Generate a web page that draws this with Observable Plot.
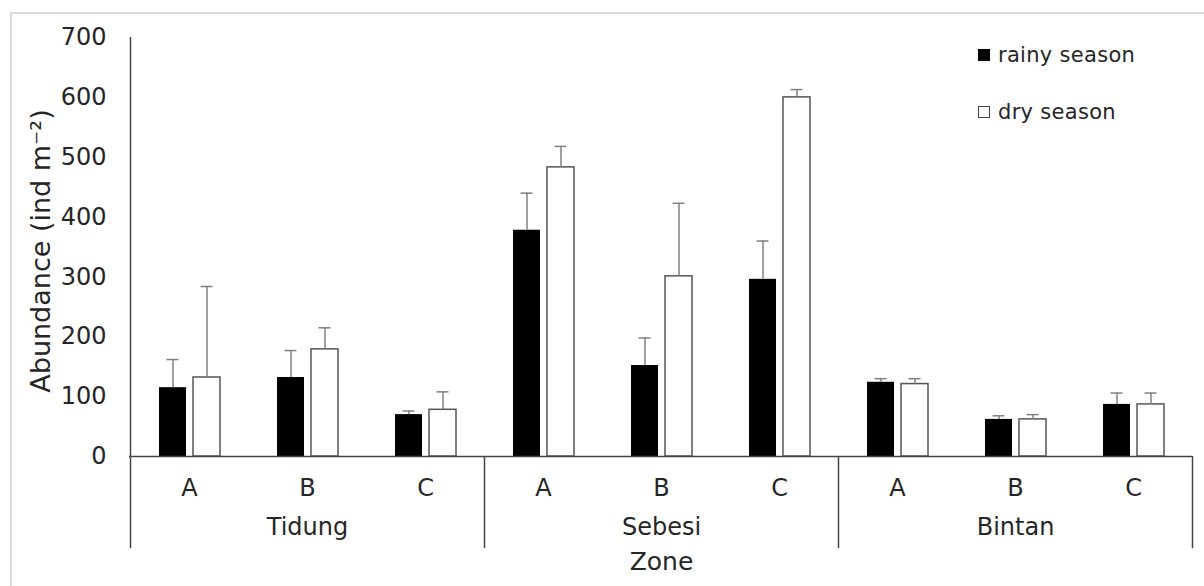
<!DOCTYPE html>
<html>
<head>
<meta charset="utf-8">
<script src="https://cdn.jsdelivr.net/npm/d3@7"></script>
<script src="https://cdn.jsdelivr.net/npm/@observablehq/plot@0.6"></script>
<style>
  html, body { margin: 0; padding: 0; background: #ffffff; }
  #wrap { position: relative; width: 1204px; height: 586px; overflow: hidden; font-family: "DejaVu Sans", Verdana, sans-serif; color: #262626; }
  #border { position: absolute; left: 10px; top: 12px; width: 1210px; height: 600px; border: 2px solid #dadada; box-sizing: border-box; }
  #chart { position: absolute; left: 0; top: 0; }
  .leg { position: absolute; font-size: 21px; display: flex; align-items: center; white-space: nowrap; letter-spacing: 0.3px; }
  .sw { width: 12px; height: 12px; box-sizing: border-box; margin-right: 8px; }
</style>
</head>
<body>
<div id="wrap">
  <div id="border"></div>
  <div id="chart"></div>
  <div class="leg" style="left:978px; top:43px;"><div class="sw" style="background:#000;"></div>rainy season</div>
  <div class="leg" style="left:978px; top:100px;"><div class="sw" style="background:#fff; border:1.5px solid #444;"></div>dry season</div>
</div>
<script>
const zones = ["Tidung", "Sebesi", "Bintan"];
const sites = ["A", "B", "C"];
// mean abundance (ind m-2), order: Tidung A,B,C, Sebesi A,B,C, Bintan A,B,C
const rainyMean = [115, 132, 70, 378, 152, 296, 124, 62, 87];
const rainySd   = [47, 45, 6, 62, 46, 64, 6, 6, 19];
const dryMean   = [132, 179, 78, 483, 301, 600, 121, 62, 87];
const drySd     = [152, 36, 30, 35, 122, 13, 9, 8, 19];
const yTicks = [0, 100, 200, 300, 400, 500, 600, 700];
const yLabel = "Abundance (ind m\u207B\u00B2)";
const xLabel = "Zone";

const keys = zones.flatMap(z => sites.map(s => z + "|" + s));
const rows = keys.map((k, i) => ({
  key: k,
  zone: k.split("|")[0],
  site: k.split("|")[1],
  rainy: rainyMean[i], rainyHi: rainyMean[i] + rainySd[i],
  dry: dryMean[i], dryHi: dryMean[i] + drySd[i]
}));

const ink = "#262626";
const errC = "#808080";

const chart = Plot.plot({
  width: 1204,
  height: 586,
  marginLeft: 129,
  marginRight: 12,
  marginTop: 37,
  marginBottom: 130,
  style: { fontFamily: "DejaVu Sans, Verdana, sans-serif", fontSize: "24px", color: ink, background: "transparent", overflow: "visible" },
  x: { domain: keys, padding: 0, axis: null },
  y: { domain: [0, 700], axis: null },
  marks: [
    Plot.axisY({ ticks: yTicks, tickSize: 0, tickPadding: 23, label: null, fontSize: 24 }),
    Plot.axisX({ tickSize: 0, tickPadding: 22, tickFormat: k => k.split("|")[1], label: null, fontSize: 24 }),
    // bars
    Plot.barY(rows, { x: "key", y: "rainy", fill: "#000", insetLeft: 29, insetRight: 62 }),
    Plot.barY(rows, { x: "key", y: "dry", fill: "#fff", stroke: "#555", strokeWidth: 1.5, insetLeft: 63, insetRight: 28 }),
    // error bars
    Plot.ruleX(rows, { x: "key", y1: "rainy", y2: "rainyHi", dx: -16.5, stroke: errC, strokeWidth: 1.5 }),
    Plot.tickY(rows, { x: "key", y: "rainyHi", insetLeft: 36.5, insetRight: 69.5, stroke: errC, strokeWidth: 1.5 }),
    Plot.ruleX(rows, { x: "key", y1: "dry", y2: "dryHi", dx: 17.5, stroke: errC, strokeWidth: 1.5 }),
    Plot.tickY(rows, { x: "key", y: "dryHi", insetLeft: 70.5, insetRight: 35.5, stroke: errC, strokeWidth: 1.5 }),
    // axis lines and group dividers
    Plot.ruleY([0], { stroke: "#444", strokeWidth: 1.5 }),
    Plot.ruleX([keys[0]], { x: d => d, dx: -59, y1: 0, y2: 700, stroke: "#444", strokeWidth: 1.5 }),
    Plot.ruleX(zones.map(z => z + "|A"), { x: d => d, dx: -59, y1: 0, y2: -154, stroke: "#444", strokeWidth: 1.5, clip: false }),
    Plot.ruleX([keys[keys.length - 1]], { x: d => d, dx: 59, y1: 0, y2: -154, stroke: "#444", strokeWidth: 1.5, clip: false }),
    // group labels
    Plot.text(zones, { x: z => z + "|B", text: d => d, frameAnchor: "bottom", dy: 78, fontSize: 24, fill: ink }),
    // x title
    Plot.text([xLabel], { x: () => "Sebesi|B", text: d => d, frameAnchor: "bottom", dy: 113, fontSize: 25, fill: ink, letterSpacing: "0.5px" }),
    // y title
    Plot.text([yLabel], { text: d => d, frameAnchor: "left", textAnchor: "middle", dx: -88, dy: 4, rotate: -90, fontSize: 27, fill: ink })
  ]
});
document.getElementById("chart").appendChild(chart);
</script>
</body>
</html>
